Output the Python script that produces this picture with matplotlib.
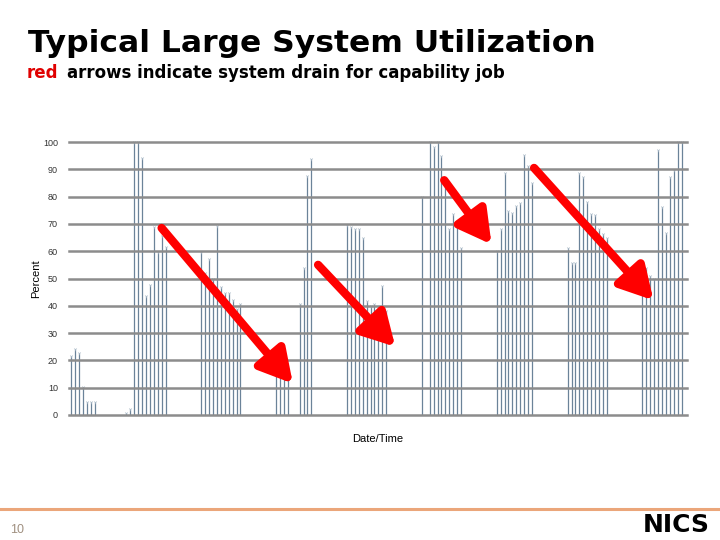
import numpy as np
import matplotlib
matplotlib.use('Agg')
import matplotlib.pyplot as plt

# time slot index (one per sample) and utilization in percent
slots = [0, 1, 2, 3, 4, 5, 6, 14, 15, 16, 17, 18, 19, 20, 21, 22, 23, 24,
         33, 34, 35, 36, 37, 38, 39, 40, 41, 42, 43,
         52, 53, 54, 55, 58, 59, 60, 61,
         70, 71, 72, 73, 74, 75, 76, 77, 78, 79, 80,
         89, 91, 92, 93, 94, 95, 96, 97, 98, 99,
         108, 109, 110, 111, 112, 113, 114, 115, 116, 117,
         126, 127, 128, 129, 130, 131, 132, 133, 134, 135, 136,
         145, 146, 147, 148, 149, 150, 151, 152, 153, 154, 155]
util = [21.6, 24, 22.8, 10.4, 4.9, 4.9, 4.9, 0.7, 2.2, 100, 100, 94, 43.7, 47.6, 69, 59.8, 65.5, 61.6,
        59.8, 52, 57, 50, 69.2, 47, 44.6, 44.6, 42, 39, 40.6,
        16, 16, 16, 16, 40.6, 54, 87.5, 93.8,
        69.6, 69, 68, 68, 65, 41.9, 40, 40.6, 37.8, 47.2, 38,
        80, 100, 98.3, 100, 95, 85, 68, 73.5, 69.3, 61,
        60, 68, 88.5, 74.8, 74, 76.5, 77.8, 95.2, 91.2, 84.8,
        61, 55.8, 55.8, 88.5, 87.3, 78, 73.6, 73.2, 68, 66.3, 65,
        54, 54, 51, 50, 97, 76.3, 66.5, 87, 89.7, 100, 100]
yticks = [0, 10, 20, 30, 40, 50, 60, 70, 80, 90, 100]

# red "drain" arrows: (tail, tip) in data coords
arrows = [((23.0, 68.5), (56.3, 11.5)),
          ((62.7, 55.0), (82.3, 25.0)),
          ((94.7, 86.0), (106.7, 62.5)),
          ((117.5, 90.5), (147.8, 42.0))]

plt.rcParams['font.family'] = ['Liberation Sans', 'DejaVu Sans']

fig = plt.figure(figsize=(7.2, 5.4), dpi=100)
ax = fig.add_axes([69 / 720, 1 - 415 / 540, 618 / 720, 273 / 540])

bar_col = '#6b8399'
ax.vlines(slots, 0, util, colors=bar_col, lw=0.9, zorder=2)
ax.plot(slots, util, linestyle='', marker='1', markersize=2.5, color='#a8b8c6',
        markeredgewidth=0.5, zorder=3, clip_on=False)

for y in yticks:
    ax.axhline(y, color='#8c8c8c', lw=1.8, zorder=4, clip_on=False)

for tail, tip in arrows:
    ax.annotate('', xy=tip, xytext=tail,
                arrowprops=dict(arrowstyle='-|>,head_length=0.9,head_width=0.5',
                                lw=6, color='#ff0000', mutation_scale=22,
                                shrinkA=0, shrinkB=0),
                zorder=6)

ax.set_xlim(-0.5, 156.3)
ax.set_ylim(0, 100)
ax.set_xticks([])
ax.set_yticks(yticks)
ax.set_yticklabels([str(v) for v in yticks], fontsize=6.5, color='#333333')
ax.tick_params(axis='y', length=0, pad=8)
for s in ax.spines.values():
    s.set_visible(False)
ax.set_ylabel('Percent', fontsize=8, labelpad=1)
ax.set_xlabel('Date/Time', fontsize=8, labelpad=14)

# slide decorations
fig.text(28 / 720, 1 - 52 / 540, 'Typical Large System Utilization', fontsize=22.6,
         fontweight='bold', family='DejaVu Sans', ha='left', va='baseline')
fig.text(27 / 720, 1 - 78 / 540, 'red', fontsize=12.0, fontweight='bold',
         family='DejaVu Sans', color='#e00000', ha='left', va='baseline')
fig.text(67 / 720, 1 - 78 / 540, 'arrows indicate system drain for capability job',
         fontsize=12.0, fontweight='bold', family='DejaVu Sans', ha='left', va='baseline')

fig.add_artist(plt.Line2D([0, 1], [1 - 509 / 540] * 2, color='#eba67a', lw=2.2))
fig.text(10 / 720, 1 - 533 / 540, '10', fontsize=9, color='#a09080', ha='left', va='baseline')
fig.text(710 / 720, 1 - 532 / 540, 'NICS', fontsize=18, fontweight='bold',
         family='DejaVu Sans', ha='right', va='baseline')

fig.savefig('out.png', dpi=100)
